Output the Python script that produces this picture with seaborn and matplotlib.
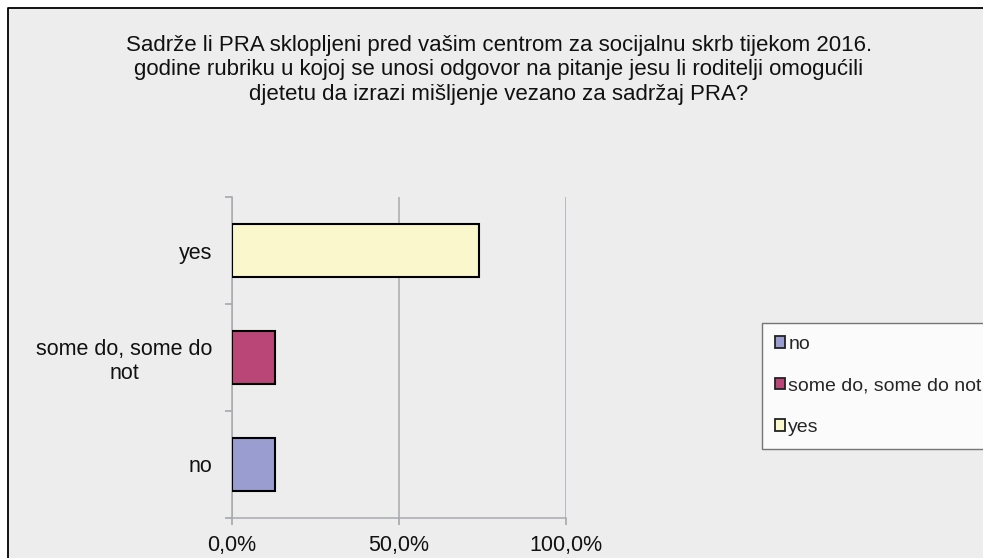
import matplotlib
matplotlib.use("Agg")
import seaborn as sns
import matplotlib.pyplot as plt
from matplotlib.lines import Line2D
from matplotlib.patches import Patch, Rectangle

#-- Chart data. --#
categories = ["yes", "some do, some do not", "no"]
tick_labels = ["yes", "some do, some do\nnot", "no"]
shares = [73.9, 13.0, 13.0]
legend_order = ["no", "some do, some do not", "yes"]
colors = {"no": "#999DCF", "some do, some do not": "#BA4677", "yes": "#FAF7CC"}
title = ("Sadrže li PRA sklopljeni pred vašim centrom za socijalnu skrb tijekom 2016.\n"
         "godine rubriku u kojoj se unosi odgovor na pitanje jesu li roditelji omogućili\n"
         "djetetu da izrazi mišljenje vezano za sadržaj PRA?")

sns.set_theme(style="white")
plt.rcParams["font.family"] = ["Liberation Sans", "DejaVu Sans"]
bg = "#EDEDED"
grid_col = "#A7AAAE"

W, H = 983, 558
fig = plt.figure(figsize=(W / 100, H / 100), dpi=100, facecolor=bg)
# white margin outside the chart frame, then the frame's left and top edges
fig.patches.append(Rectangle((0, 0), 8 / W, 1, transform=fig.transFigure,
                             facecolor="white", edgecolor="none", zorder=-10))
fig.patches.append(Rectangle((0, 1 - 8 / H), 1, 8 / H, transform=fig.transFigure,
                             facecolor="white", edgecolor="none", zorder=-10))
fig.lines.append(Line2D([8 / W, 8 / W, 1], [0, 1 - 8 / H, 1 - 8 / H], transform=fig.transFigure,
                        color="black", linewidth=1.3))

ax = fig.add_axes([232 / W, 1 - 518 / H, (566 - 232) / W, (518 - 197) / H])
ax.set_facecolor(bg)

sns.barplot(x=shares, y=categories, hue=categories, order=categories, hue_order=categories,
            palette=colors, saturation=1, orient="h", width=0.5, edgecolor="black",
            linewidth=1.5, legend=False, ax=ax, zorder=3)

ax.set_xlim(0, 100)
ax.set_ylim(2.5, -0.5)
ax.set_xticks([0, 50, 100], ["0,0%", "50,0%", "100,0%"])
ax.set_yticks([-0.5, 0.5, 1.5, 2.5], ["", "", "", ""])
ax.set_yticks([0, 1, 2], tick_labels, minor=True)
for lbl in ax.get_yticklabels(minor=True):
    lbl.set_multialignment("center")
ax.tick_params(axis="y", which="major", length=5, color=grid_col, direction="out", left=True)
ax.tick_params(axis="y", which="minor", length=0, pad=14, labelsize=15.5, colors="#111111")
ax.tick_params(axis="x", length=5, color=grid_col, direction="out", bottom=True, pad=7,
               labelsize=15.5, labelcolor="#111111")
ax.set_xlabel("")
ax.set_ylabel("")
ax.xaxis.grid(True, color=grid_col, linewidth=1.1, zorder=0)
ax.set_axisbelow(True)
for side in ["top", "right"]:
    ax.spines[side].set_visible(False)
for side in ["left", "bottom"]:
    ax.spines[side].set_color(grid_col)
    ax.spines[side].set_linewidth(1.1)

fig.text(499 / W, 1 - 70 / H, title, ha="center", va="center", fontsize=16,
         linespacing=1.2, color="#111111")

handles = [Patch(facecolor=colors[c], edgecolor="#222222", linewidth=1.3) for c in legend_order]
leg = fig.legend(handles, legend_order, loc="upper left", bbox_to_anchor=(762 / W, 1 - 323 / H),
                 fontsize=14, frameon=True, fancybox=False, handlelength=0.55, handleheight=0.55,
                 handletextpad=0.15, labelspacing=1.27, borderpad=0.65, borderaxespad=0)
leg.get_frame().set_edgecolor("#555555")
leg.get_frame().set_facecolor("white")
leg.get_frame().set_linewidth(1.0)

fig.savefig("out.png", dpi=100, facecolor=bg)
